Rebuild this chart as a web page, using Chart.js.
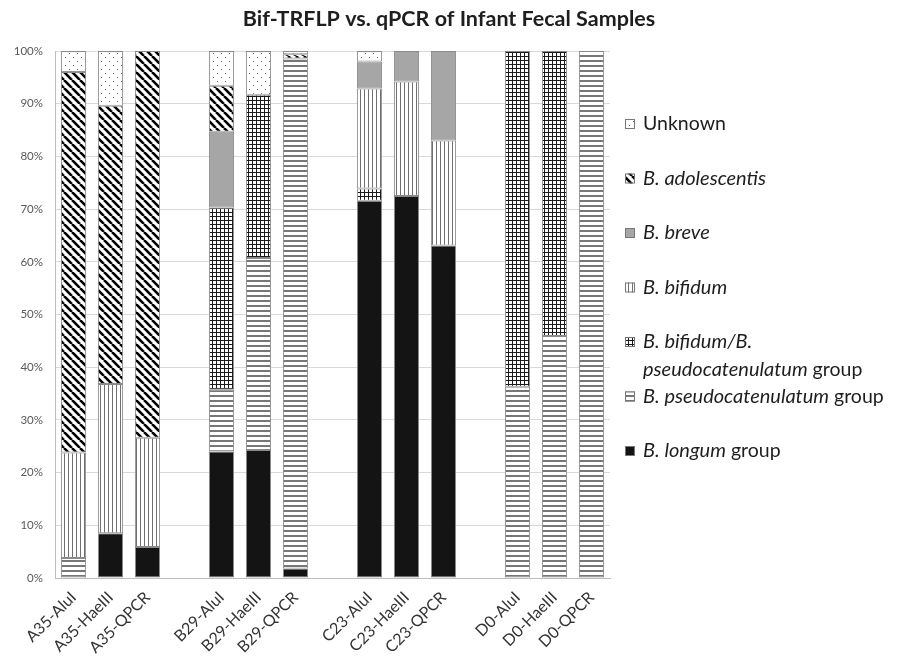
<!DOCTYPE html>
<html>
<head>
<meta charset="utf-8">
<script src="https://cdn.jsdelivr.net/npm/chart.js@4/dist/chart.umd.min.js"></script>
<style>
  body { margin: 0; background: #fff; }
  #wrap { width: 898px; height: 664px; }
</style>
</head>
<body>
<div id="wrap"><canvas id="chart-area" width="898" height="664"></canvas></div>
<script>
var samples = ['A35-AluI', 'A35-HaeIII', 'A35-QPCR',
               'B29-AluI', 'B29-HaeIII', 'B29-QPCR',
               'C23-AluI', 'C23-HaeIII', 'C23-QPCR',
               'D0-AluI', 'D0-HaeIII', 'D0-QPCR'];

// percent of each sample, bottom of the stack first
var longum       = [0, 8.5, 5.9, 24, 24.3, 1.8, 71.6, 72.5, 63.1, 0, 0, 0];
var pseudo       = [3.8, 0, 0, 11.7, 36.4, 96.8, 0, 0, 0, 36.3, 45.9, 100];
var bifPseudo    = [0, 0, 0, 34.6, 31, 0, 2.3, 0, 0, 63.7, 54.1, 0];
var bifidum      = [20, 28.3, 20.7, 0, 0, 0, 19, 21.7, 19.9, 0, 0, 0];
var breve        = [0, 0, 0, 14.4, 0, 0, 5.1, 5.8, 17, 0, 0, 0];
var adolescentis = [72.2, 52.8, 73.4, 8.7, 0, 0.8, 0, 0, 0, 0, 0, 0];
var unknown      = [4, 10.4, 0, 6.6, 8.3, 0.6, 2, 0, 0, 0, 0, 0];

var yTicks = [0, 10, 20, 30, 40, 50, 60, 70, 80, 90, 100];

var TITLE = 'Bif-TRFLP vs. qPCR of Infant Fecal Samples';
var FONT = 'Lato, "Open Sans", sans-serif';

/* fill patterns */
function pattern(w, h, draw) {
  var c = document.createElement('canvas');
  c.width = w; c.height = h;
  var g = c.getContext('2d');
  g.fillStyle = '#fff';
  g.fillRect(0, 0, w, h);
  draw(g);
  return g.createPattern(c, 'repeat');
}
var pDots = pattern(8, 8, function (g) {
  g.fillStyle = '#666';
  g.fillRect(1, 1, 1, 1);
  g.fillRect(5, 5, 1, 1);
});
var pDiag = pattern(8, 8, function (g) {
  g.strokeStyle = '#000';
  g.lineWidth = 2.6;
  [-8, 0, 8].forEach(function (o) {
    g.beginPath(); g.moveTo(o, 0); g.lineTo(o + 8, 8); g.stroke();
  });
});
var pVert = pattern(4, 4, function (g) {
  g.fillStyle = '#707070';
  g.fillRect(0, 0, 1, 4);
});
var pGrid = pattern(4, 4, function (g) {
  g.fillStyle = '#1a1a1a';
  g.fillRect(0, 0, 1, 4);
  g.fillRect(0, 0, 4, 1);
});
var pHoriz = pattern(5, 5, function (g) {
  g.fillStyle = '#777';
  g.fillRect(0, 0, 5, 2);
});

var series = [
  { name: 'B. longum group', data: longum, fill: '#141414',
    legend: [[['B. longum', true], [' group', false]]] },
  { name: 'B. pseudocatenulatum group', data: pseudo, fill: pHoriz,
    legend: [[['B. pseudocatenulatum', true], [' group', false]]] },
  { name: 'B. bifidum/B. pseudocatenulatum group', data: bifPseudo, fill: pGrid,
    legend: [[['B. bifidum/B.', true]], [['pseudocatenulatum', true], [' group', false]]] },
  { name: 'B. bifidum', data: bifidum, fill: pVert,
    legend: [[['B. bifidum', true]]] },
  { name: 'B. breve', data: breve, fill: '#a6a6a6',
    legend: [[['B. breve', true]]] },
  { name: 'B. adolescentis', data: adolescentis, fill: pDiag,
    legend: [[['B. adolescentis', true]]] },
  { name: 'Unknown', data: unknown, fill: pDots,
    legend: [[['Unknown', false]]] }
];

// empty category between each group of three samples
var labels = [];
var slot = [];
samples.forEach(function (s, i) {
  if (i > 0 && i % 3 === 0) { labels.push(''); slot.push(-1); }
  labels.push(s); slot.push(i);
});

var datasets = series.map(function (s) {
  return {
    label: s.name,
    data: slot.map(function (k) { return (k < 0 || !s.data[k]) ? null : s.data[k]; }),
    backgroundColor: s.fill,
    borderColor: '#8a8a8a',
    borderWidth: 1,
    borderSkipped: false,
    barPercentage: 0.68,
    categoryPercentage: 1
  };
});

/* title across the whole canvas, legend on the right with mixed italics */
var sideLegend = {
  id: 'sideLegend',
  afterDraw: function (chart) {
    var ctx = chart.ctx;
    ctx.save();
    ctx.textBaseline = 'middle';
    ctx.textAlign = 'center';
    ctx.fillStyle = '#1e1e1e';
    ctx.font = 'bold 21.5px ' + FONT;
    ctx.fillText(TITLE, chart.width / 2, 19);

    ctx.textAlign = 'left';
    var x0 = 625, y = 124, step = 54.5;
    series.slice().reverse().forEach(function (s) {
      ctx.fillStyle = s.fill;
      ctx.fillRect(x0, y - 5, 10, 10);
      ctx.strokeStyle = '#777';
      ctx.lineWidth = 1;
      ctx.strokeRect(x0 + 0.5, y - 4.5, 9, 9);
      s.legend.forEach(function (line, li) {
        var x = x0 + 18;
        line.forEach(function (part) {
          ctx.font = (part[1] ? 'italic 20px ' : '19.5px ') + FONT;
          ctx.fillStyle = '#1e1e1e';
          ctx.fillText(part[0], x, y + li * 28);
          x += ctx.measureText(part[0]).width;
        });
      });
      y += step;
    });
    ctx.restore();
  }
};

var config = {
  type: 'bar',
  data: { labels: labels, datasets: datasets },
  options: {
    responsive: false,
    animation: false,
    layout: { padding: { left: 0, right: 288, top: 51, bottom: 0 } },
    plugins: {
      legend: { display: false },
      tooltip: { enabled: false },
      title: { display: false }
    },
    scales: {
      x: {
        stacked: true,
        grid: { display: false },
        border: { color: '#bdbdbd' },
        ticks: {
          autoSkip: false,
          minRotation: 45,
          maxRotation: 45,
          padding: 2,
          color: '#333',
          font: { family: FONT, size: 16 }
        },
        afterFit: function (scale) { scale.height = 86; }
      },
      y: {
        stacked: true,
        min: 0,
        max: 100,
        afterBuildTicks: function (scale) {
          scale.ticks = yTicks.map(function (v) { return { value: v }; });
        },
        grid: { color: '#d9d9d9', drawTicks: false },
        border: { color: '#bdbdbd' },
        ticks: {
          padding: 12,
          color: '#595959',
          font: { family: FONT, size: 11.5 },
          callback: function (v) { return v + '%'; }
        },
        afterFit: function (scale) { scale.width = 55; }
      }
    }
  },
  plugins: [sideLegend]
};

window.onload = function () {
  var ctx = document.getElementById('chart-area').getContext('2d');
  window.myBar = new Chart(ctx, config);
};
</script>
</body>
</html>
